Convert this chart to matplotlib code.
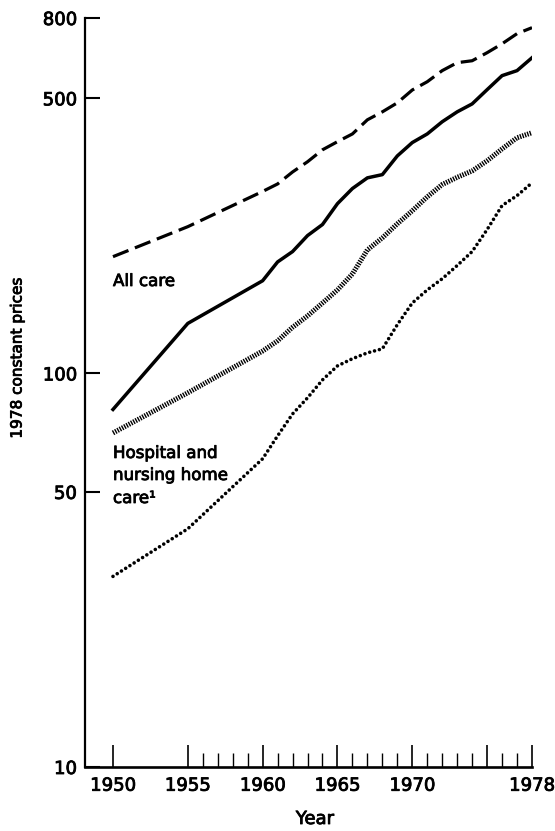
import matplotlib
matplotlib.use("Agg")
import matplotlib.pyplot as plt
import matplotlib.patheffects as pe
from matplotlib.ticker import FixedLocator, NullLocator, FixedFormatter

plt.rcParams['font.family'] = ['DejaVu Sans']
plt.rcParams['lines.scale_dashes'] = False

# ---- data ----
years = [1950, 1955, 1960, 1961, 1962, 1963, 1964, 1965, 1966, 1967, 1968,
         1969, 1970, 1971, 1972, 1973, 1974, 1975, 1976, 1977, 1978]

all_care_upper = [198, 236, 290, 303, 325, 345, 370, 388, 406, 441, 462,
                  487, 525, 551, 588, 616, 623, 653, 688, 730, 756]
all_care_lower = [81, 134, 172, 192, 204, 224, 239, 270, 295, 314, 320,
                  357, 386, 406, 436, 462, 484, 526, 571, 588, 634]
hospital_upper = [70.6, 89.3, 114, 121, 131, 140, 151, 163, 179, 206, 221,
                  240, 259, 281, 302, 315, 327, 347, 372, 397, 409]
hospital_lower = [30.5, 40.3, 60.7, 69.4, 78.9, 86.7, 96.3, 104.5, 109, 112.8, 115.5,
                  133, 151, 163, 174, 188, 204, 232, 267, 283, 305]

y_ticks = [10, 50, 100, 500, 800]
y_tick_labels = ['10', '50', '100', '500', '800']
x_major_ticks = [1950, 1955, 1960, 1965, 1970, 1975, 1978]
x_major_labels = ['1950', '1955', '1960', '1965', '1970', '', '1978']
x_minor_ticks = [1956, 1957, 1958, 1959, 1961, 1962, 1963, 1964, 1966, 1967,
                 1968, 1969, 1971, 1972, 1973, 1974, 1976, 1977]

label_all_care = 'All care'
label_hospital = ['Hospital and', 'nursing home', 'care\u00b9']
y_label = '1978 constant prices'
x_label = 'Year'

# ---- figure ----
W, H = 555, 831
fig = plt.figure(figsize=(W / 100, H / 100), dpi=100)
ax = fig.add_axes([85 / W, 1 - 767 / H, (532 - 85) / W, (767 - 18) / H])

ax.plot(years, all_care_upper, color='black', lw=2.3, linestyle=(0, (12, 5)),
        dash_capstyle='butt')
ax.plot(years, all_care_lower, color='black', lw=2.5, solid_joinstyle='round')
ax.plot(years, hospital_upper, color='black', lw=3.6, linestyle=(0, (1.0, 0.85)),
        dash_capstyle='butt')
ax.plot(years, hospital_lower, color='black', lw=2.6, linestyle=(0, (0.01, 3.6)),
        dash_capstyle='round')

ax.set_yscale('log')
ax.set_ylim(10, 800)
ax.set_xlim(1948.13, 1978)

ax.yaxis.set_major_locator(FixedLocator(y_ticks))
ax.yaxis.set_major_formatter(FixedFormatter(y_tick_labels))
ax.yaxis.set_minor_locator(NullLocator())
ax.xaxis.set_major_locator(FixedLocator(x_major_ticks))
ax.xaxis.set_major_formatter(FixedFormatter(x_major_labels))
ax.xaxis.set_minor_locator(FixedLocator(x_minor_ticks))

ax.tick_params(axis='y', which='major', direction='in', length=11, width=1.5,
               labelsize=13, pad=6)
ax.tick_params(axis='x', which='major', direction='in', length=15.5, width=1.2,
               labelsize=13, pad=7)
ax.tick_params(axis='x', which='minor', direction='in', length=10, width=1.0)

for s in ['top', 'right']:
    ax.spines[s].set_visible(False)
ax.spines['left'].set_linewidth(1.6)
ax.spines['bottom'].set_linewidth(1.9)

thick = [pe.withStroke(linewidth=0.6, foreground='black')]

ax.text(0.0626, 0.6422, label_all_care, transform=ax.transAxes,
        fontsize=12, va='baseline', ha='left', path_effects=thick)
for line, yb in zip(label_hospital, [0.4126, 0.3832, 0.3525]):
    ax.text(0.0626, yb, line, transform=ax.transAxes,
            fontsize=12, va='baseline', ha='left', path_effects=thick)

for lab in ax.get_xticklabels() + ax.get_yticklabels():
    lab.set_path_effects(thick)

fig.text(17 / W, 1 - 358 / H, y_label, rotation=90, fontsize=11,
         ha='center', va='center', path_effects=thick)
fig.text(315 / W, 1 - 824 / H, x_label, fontsize=13, ha='center', va='baseline',
         path_effects=thick)

fig.savefig('out.png', dpi=100, facecolor='white')
